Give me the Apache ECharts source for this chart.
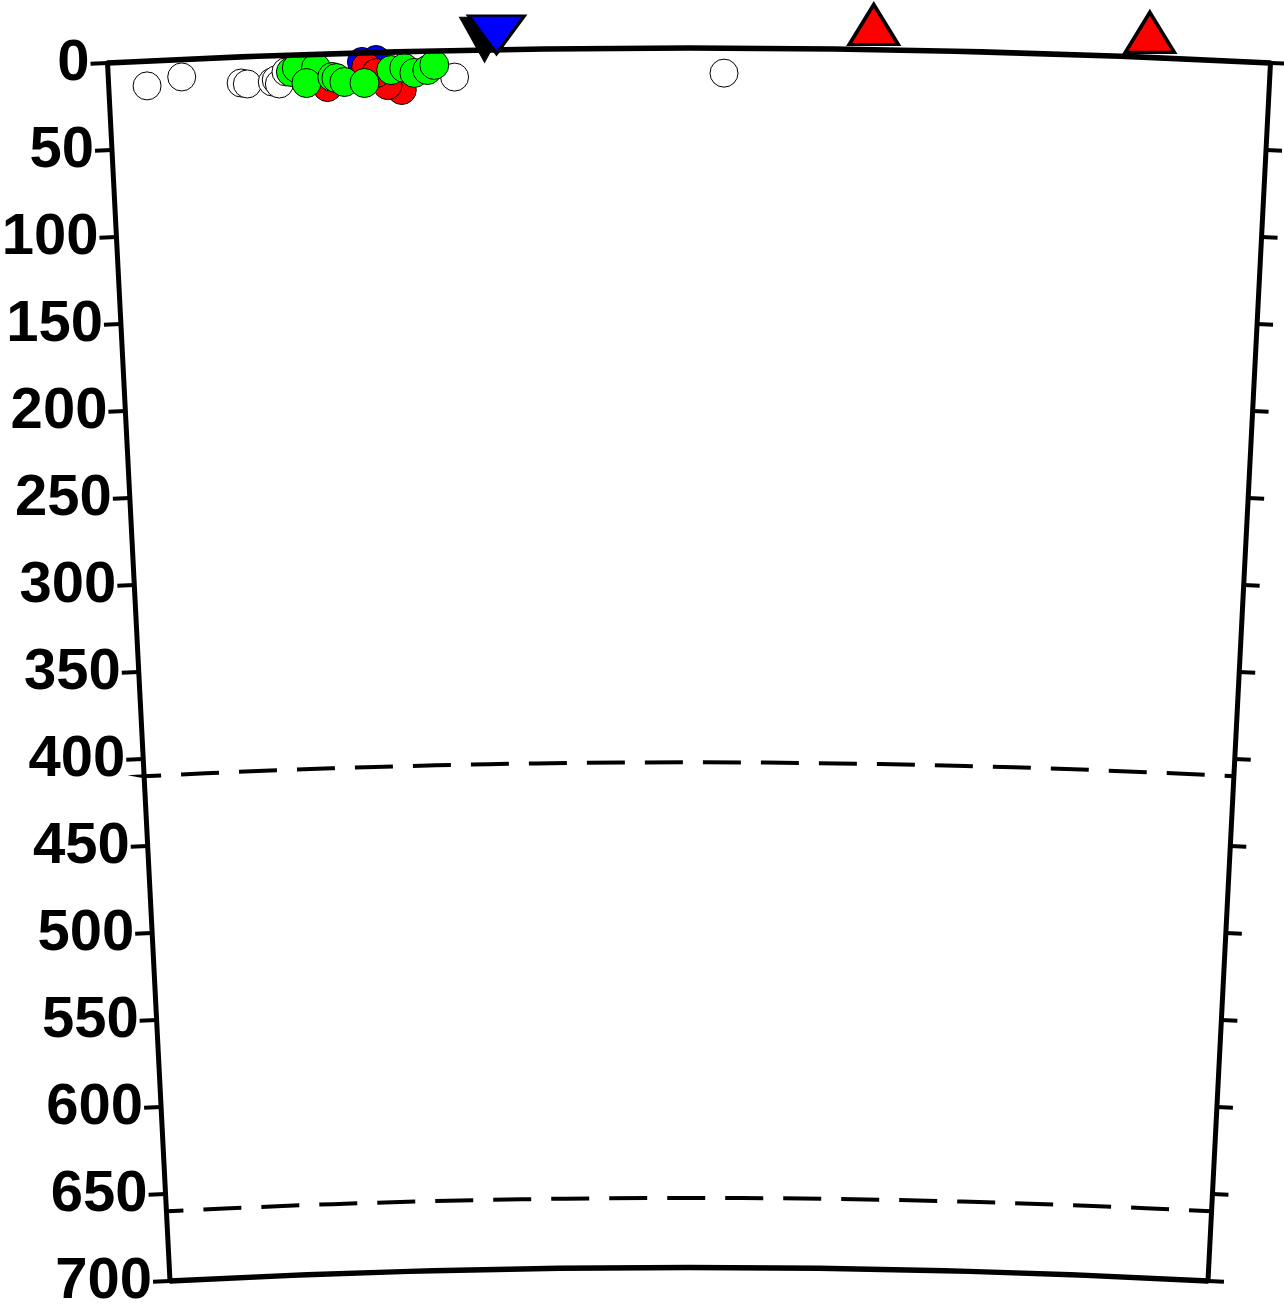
<!DOCTYPE html>
<html><head><meta charset="utf-8">
<script src="https://cdn.jsdelivr.net/npm/echarts@6/dist/echarts.min.js"></script>
<style>html,body{margin:0;padding:0;background:#fff}#chart{width:1284px;height:1309px}</style>
</head><body><div id="chart"></div>
<script>
// Profile: distance along the surface (km) and depth (km)
const profileLength = 660;
const depthMin = 0;
const depthMax = 700;
const depthStep = 50;
const frameDepths = [0, 700];
const discontinuityDepths = [410, 660];

// earthquakes: [distance km, depth km]
const whiteQuakes = [[21.8,14.3],[41.7,10.1],[75.3,15.0],[78.8,15.7],[93.0,15.1],[95.3,14.0],[97.0,16.4],[101.0,9.6],[196.7,15.3],[349.9,14.4]];
const blueQuakes = [[144.3,5.3],[152.3,4.4]];
const redQuakes = [[146.6,8.3],[124.3,19.1],[166.5,22.0],[158.5,19.0],[152.3,11.9]];
const greenQuakes = [[103.8,9.7],[107.2,7.6],[118.1,7.9],[112.4,16.4],[127.2,13.4],[129.5,14.1],[134.0,16.5],[145.4,17.4],[160.8,10.4],[168.2,9.4],[173.9,12.4],[181.3,10.9],[185.3,8.1]];
// surface markers: [distance km, depth km]
const volcanoes = [[434.8,0],[591.5,0]];
const stationBlack = [[214.0,0]];
const stationBlue = [[220.8,0]];

const toPolar = arr => arr.map(p => [p[1], p[0]]);

const chart = echarts.init(document.getElementById('chart'));

function arcRender(lineWidth, dash) {
  return function (params, api) {
    const cs = params.coordSys;
    const d = api.value(0);
    const a = api.coord([d, 0]);
    const b = api.coord([d, profileLength]);
    const r = Math.hypot(a[0] - cs.cx, a[1] - cs.cy);
    return {
      type: 'arc',
      shape: {
        cx: cs.cx, cy: cs.cy, r: r,
        startAngle: Math.atan2(a[1] - cs.cy, a[0] - cs.cx),
        endAngle: Math.atan2(b[1] - cs.cy, b[0] - cs.cx),
        clockwise: true
      },
      style: { stroke: '#000', fill: null, lineWidth: lineWidth, lineDash: dash, lineDashOffset: 21 }
    };
  };
}

const hidden = { show: false };
const quakeStyle = c => ({ color: c, borderColor: '#000', borderWidth: 1, opacity: 1 });

chart.setOption({
  animation: false,
  backgroundColor: '#fff',
  polar: [
    { center: [689, 11393], radius: [10125.4, 11345] },
    { center: [689, 11393], radius: [10125.4, 11345] }
  ],
  angleAxis: [
    { polarIndex: 0, type: 'value', min: 0, max: profileLength, startAngle: 92.938, endAngle: 87.062,
      axisLine: hidden, axisTick: hidden, axisLabel: hidden, splitLine: hidden },
    { polarIndex: 1, type: 'value', min: 0, max: profileLength, startAngle: 87.062, endAngle: 92.938, clockwise: false,
      axisLine: hidden, axisTick: hidden, axisLabel: hidden, splitLine: hidden }
  ],
  radiusAxis: [
    { polarIndex: 0, type: 'value', min: depthMin, max: depthMax, interval: depthStep, inverse: true,
      axisLine: { show: true, lineStyle: { color: '#000', width: 5 } },
      axisTick: { show: true, length: 17, lineStyle: { color: '#000', width: 4 } },
      axisLabel: { show: true, margin: 18, fontSize: 58, fontWeight: 'bold', fontFamily: 'Liberation Sans', color: '#000', padding: [7, 0, 0, 0] },
      splitLine: hidden },
    { polarIndex: 1, type: 'value', min: depthMin, max: depthMax, interval: depthStep, inverse: true,
      axisLine: { show: true, lineStyle: { color: '#000', width: 5 } },
      axisTick: { show: true, length: -16, lineStyle: { color: '#000', width: 4 } },
      axisLabel: hidden, splitLine: hidden }
  ],
  series: [
    { type: 'scatter', coordinateSystem: 'polar', polarIndex: 0, symbolSize: 28, data: toPolar(whiteQuakes), itemStyle: quakeStyle('#fff'), z: 2 },
    { type: 'scatter', coordinateSystem: 'polar', polarIndex: 0, symbolSize: 29, data: toPolar(blueQuakes), itemStyle: quakeStyle('#0000ff'), z: 3 },
    { type: 'scatter', coordinateSystem: 'polar', polarIndex: 0, symbolSize: 29, data: toPolar(redQuakes), itemStyle: quakeStyle('#ff0000'), z: 4 },
    { type: 'scatter', coordinateSystem: 'polar', polarIndex: 0, symbolSize: 29, data: toPolar(greenQuakes), itemStyle: quakeStyle('#00ff00'), z: 5 },
    { type: 'custom', coordinateSystem: 'polar', polarIndex: 0, data: frameDepths.map(d => [d, 0]), renderItem: arcRender(5.5, null), z: 8 },
    { type: 'custom', coordinateSystem: 'polar', polarIndex: 0, data: discontinuityDepths.map(d => [d, 0]), renderItem: arcRender(4, [38, 20]), z: 8 },
    { type: 'scatter', coordinateSystem: 'polar', polarIndex: 0, symbol: 'triangle', symbolSize: [49, 40], symbolOffset: [0, -25],
      data: toPolar(volcanoes), itemStyle: { color: '#ff0000', borderColor: '#000', borderWidth: 3.5, opacity: 1 }, z: 9 },
    { type: 'scatter', coordinateSystem: 'polar', polarIndex: 0, symbol: 'triangle', symbolRotate: 180, symbolSize: [50, 45], symbolOffset: [0, -10],
      data: toPolar(stationBlack), itemStyle: { color: '#000', borderColor: '#000', borderWidth: 1, opacity: 1 }, z: 9 },
    { type: 'scatter', coordinateSystem: 'polar', polarIndex: 0, symbol: 'triangle', symbolRotate: 180, symbolSize: [56, 38], symbolOffset: [0, -15],
      data: toPolar(stationBlue), itemStyle: { color: '#0000ff', borderColor: '#000', borderWidth: 3, opacity: 1 }, z: 10 }
  ]
});
</script>
</body></html>
